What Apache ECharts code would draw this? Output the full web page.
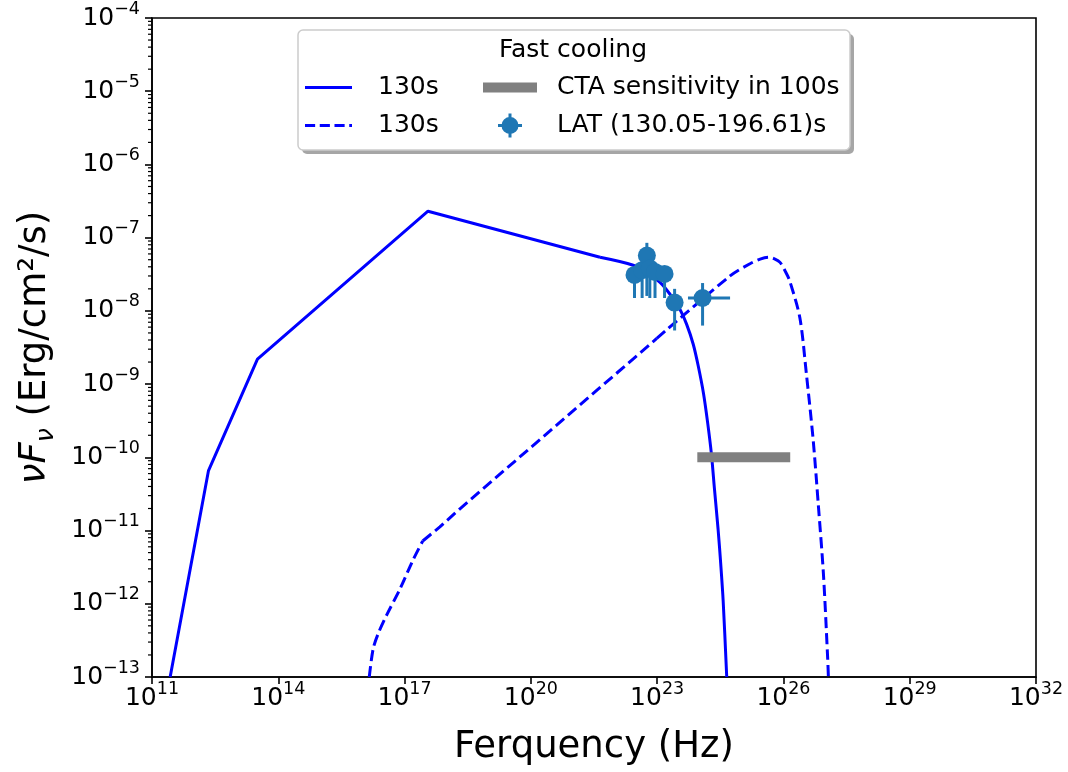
<!DOCTYPE html>
<html>
<head>
<meta charset="utf-8">
<script src="https://cdn.jsdelivr.net/npm/echarts@6/dist/echarts.min.js"></script>
<style>
  html, body { margin: 0; padding: 0; background: #fff; }
  #chart { width: 1068px; height: 772px; }
</style>
</head>
<body>
<div id="chart"></div>
<script>
// model curves (Hz, erg/cm2/s)
const solidFreq = [2.7e11, 2.2e12, 3.2e13, 3.6e17, 4.4e21, 2.7e22, 6.3e22, 1.17e23, 2.0e23, 3.47e23,
    5.0e23, 7.2e23, 9.5e23, 1.26e24, 1.58e24, 1.95e24, 2.29e24, 2.8e24, 3.24e24, 3.7e24, 4.5e24];
const solidFlux = [1e-13, 6.6e-11, 2.2e-9, 2.3e-7, 5.4e-8, 4.2e-8, 3.2e-8, 2.45e-8, 1.7e-8, 1.05e-8,
    6.6e-9, 3.5e-9, 1.75e-9, 7.5e-10, 3.0e-10, 1.1e-10, 3.8e-11, 1.05e-11, 3.5e-12, 1.1e-12, 1e-13];

const dashFreq = [1.45e16, 1.8e16, 2.4e16, 3.8e16, 7.8e16, 1.6e17, 2.7e17, 6.9e17, 2.1e18, 9.8e22,
    5.4e24, 1.6e25, 2.8e25, 4.4e25, 6.3e25, 8.3e25, 1.1e26, 1.4e26, 2.45e26, 3.5e26,
    5.1e26, 6.8e26, 8.9e26, 1.12e27, 1.17e27];
const dashFlux = [1e-13, 2.45e-13, 4.0e-13, 7.1e-13, 1.6e-12, 4.0e-12, 7.2e-12, 1.12e-11, 2.0e-11, 4.2e-9,
    3.0e-8, 4.4e-8, 5.1e-8, 5.4e-8, 5.1e-8, 4.6e-8, 3.5e-8, 2.6e-8, 8.1e-9, 1.4e-9,
    1.7e-10, 2.1e-11, 2.6e-12, 1.9e-13, 1e-13];

// CTA sensitivity in 100s
const ctaFreq = [9e23, 1.45e26];
const ctaFlux = [1e-10, 1e-10];

// LAT points (130.05-196.61 s)
const latFreq   = [2.9e22, 4.4e22, 5.7e22, 6.7e22, 8.9e22, 1.5e23, 2.6e23, 1.2e24];
const latFlux   = [3.1e-8, 3.6e-8, 5.7e-8, 3.8e-8, 3.4e-8, 3.2e-8, 1.3e-8, 1.5e-8];
const latFluxLo = [1.5e-8, 1.5e-8, 1.6e-8, 1.5e-8, 1.5e-8, 1.5e-8, 5.4e-9, 6.3e-9];
const latFluxHi = [4.0e-8, 4.6e-8, 8.5e-8, 4.8e-8, 4.4e-8, 4.1e-8, 2.0e-8, 2.4e-8];
const latFreqLo = [2.9e22, 4.4e22, 5.7e22, 6.7e22, 8.9e22, 1.5e23, 2.6e23, 5.4e23];
const latFreqHi = [2.9e22, 4.4e22, 5.7e22, 6.7e22, 8.9e22, 1.5e23, 2.6e23, 5.4e24];

const FONT = 'DejaVu Sans';
function powLabel(v) {
    return '{b|10}{e|' + String(v).replace('-', '\u2212') + '}';
}
const powRich = {
    b: { fontSize: 25, fontFamily: FONT, color: '#000' },
    e: { fontSize: 17.5, fontFamily: FONT, color: '#000', height: 7, verticalAlign: 'top' }
};
const lg = Math.log10;
function pairs(xs, ys) {
    return xs.map((x, i) => [lg(x), lg(ys[i])]);
}
const solidPts = pairs(solidFreq, solidFlux);
const dashPts = pairs(dashFreq, dashFlux);

// minor ticks of the y axis at 2..9 x 10^n
const minorTicks = [];
for (let e = -13; e < -4; e++) {
    for (let k = 2; k <= 9; k++) minorTicks.push([11, e + lg(k)]);
}

const myChart = echarts.init(document.getElementById('chart'));
const blue = '#0000ff';
const c0 = '#1f77b4';
const dash = [11, 5];

function lineSeries(name, data, type, smooth) {
    return {
        name: name, type: 'line', data: data, symbol: 'none', z: 2,
        smooth: smooth ? 0.3 : false,
        lineStyle: { color: blue, width: 3, type: type }, itemStyle: { color: blue }
    };
}

const option = {
    animation: false,
    grid: { left: 152, right: 32, top: 17, bottom: 95, show: true, borderColor: '#000', borderWidth: 1.6 },
    xAxis: {
        type: 'value', min: 11, max: 32, interval: 3,
        axisLine: { lineStyle: { color: '#000', width: 1.6 } },
        axisTick: { length: 7, lineStyle: { color: '#000', width: 1.6 } },
        axisLabel: { formatter: powLabel, rich: powRich, margin: 9 },
        splitLine: { show: false },
        name: 'Ferquency (Hz)', nameLocation: 'middle', nameGap: 52,
        nameTextStyle: { fontSize: 37, fontFamily: FONT, color: '#000' }
    },
    yAxis: {
        type: 'value', min: -13, max: -4, interval: 1,
        axisLine: { lineStyle: { color: '#000', width: 1.6 } },
        axisTick: { length: 7, lineStyle: { color: '#000', width: 1.6 } },
        axisLabel: { formatter: powLabel, rich: powRich, margin: 12 },
        splitLine: { show: false },
        name: '{i|νF}{s|ν}{n| (Erg/cm²/s)}', nameLocation: 'middle', nameGap: 98,
        nameTextStyle: {
            fontSize: 37, fontFamily: FONT, color: '#000',
            rich: {
                i: { fontSize: 37, fontStyle: 'italic', fontFamily: FONT },
                s: { fontSize: 25, fontStyle: 'italic', fontFamily: FONT, height: 16, verticalAlign: 'bottom' },
                n: { fontSize: 37, fontFamily: FONT }
            }
        }
    },
    legend: [
        {
            z: 5, left: 305, top: 75, orient: 'vertical', padding: 0,
            itemWidth: 47, itemHeight: 24, itemGap: 13,
            formatter: n => n.trim(),
            textStyle: { fontSize: 25, fontFamily: FONT, color: '#000', padding: [0, 0, 0, 21] },
            data: [
                { name: '130s', icon: 'path://M0,0h47v3h-47z' },
                { name: '130s ', icon: 'path://M0,0h11v3h-11z M16,0h11v3h-11z M32,0h11v3h-11z M48,0h3v3h-3z' }
            ]
        },
        {
            z: 5, left: 483, top: 75, orient: 'vertical', padding: 0,
            itemWidth: 54, itemHeight: 24, itemGap: 13,
            textStyle: { fontSize: 25, fontFamily: FONT, color: '#000', padding: [0, 0, 0, 15] },
            data: [
                { name: 'CTA sensitivity in 100s', icon: 'path://M0,0h54v10h-54z' },
                { name: 'LAT (130.05-196.61)s',
                  icon: 'path://M10.5,0h3v24h-3z M0,10.5h24v3h-24z M3.5,12a8.5,8.5 0 1,1 17,0a8.5,8.5 0 1,1 -17,0z' }
            ]
        }
    ],
    graphic: [
        { type: 'rect', z: 3, shape: { x: 302, y: 34, width: 552, height: 120, r: 5 },
          style: { fill: '#a6a6a6' } },
        { type: 'rect', z: 3, shape: { x: 298, y: 30, width: 552, height: 120, r: 5 },
          style: { fill: '#fff', stroke: '#cccccc', lineWidth: 1.5 } },
        { type: 'text', z: 4, x: 573, y: 50,
          style: { text: 'Fast cooling', fontSize: 25, fontFamily: FONT, fill: '#000', align: 'center', verticalAlign: 'middle' } }
    ],
    series: [
        lineSeries('130s', solidPts.slice(0, 5), 'solid', false),
        lineSeries('130s', solidPts.slice(4), 'solid', true),
        lineSeries('130s ', dashPts.slice(0, 7), dash, true),
        lineSeries('130s ', dashPts.slice(6, 10), dash, false),
        lineSeries('130s ', dashPts.slice(9), dash, true),
        {
            name: 'CTA sensitivity in 100s', type: 'line', data: pairs(ctaFreq, ctaFlux), symbol: 'none', z: 2,
            lineStyle: { color: '#808080', width: 10, cap: 'butt' }, itemStyle: { color: '#808080' }
        },
        {
            name: 'LAT (130.05-196.61)s', type: 'custom', z: 3,
            itemStyle: { color: c0 },
            data: latFreq.map((f, i) => [lg(f), lg(latFlux[i]), lg(latFluxLo[i]), lg(latFluxHi[i]), lg(latFreqLo[i]), lg(latFreqHi[i])]),
            renderItem(params, api) {
                const x = api.value(0), y = api.value(1);
                const c = api.coord([x, y]);
                const yl = api.coord([x, api.value(2)]);
                const yh = api.coord([x, api.value(3)]);
                const xl = api.coord([api.value(4), y]);
                const xh = api.coord([api.value(5), y]);
                const st = { stroke: c0, lineWidth: 3 };
                return {
                    type: 'group',
                    children: [
                        { type: 'line', shape: { x1: c[0], y1: yl[1], x2: c[0], y2: yh[1] }, style: st },
                        { type: 'line', shape: { x1: xl[0], y1: c[1], x2: xh[0], y2: c[1] }, style: st },
                        { type: 'circle', shape: { cx: c[0], cy: c[1], r: 9 }, style: { fill: c0 } }
                    ]
                };
            }
        },
        {
            type: 'custom', silent: true, z: 1, data: minorTicks,
            renderItem(params, api) {
                const p = api.coord([api.value(0), api.value(1)]);
                return { type: 'line', shape: { x1: p[0] - 4, y1: p[1], x2: p[0], y2: p[1] },
                         style: { stroke: '#000', lineWidth: 1.2 } };
            }
        }
    ]
};

myChart.setOption(option);
</script>
</body>
</html>
